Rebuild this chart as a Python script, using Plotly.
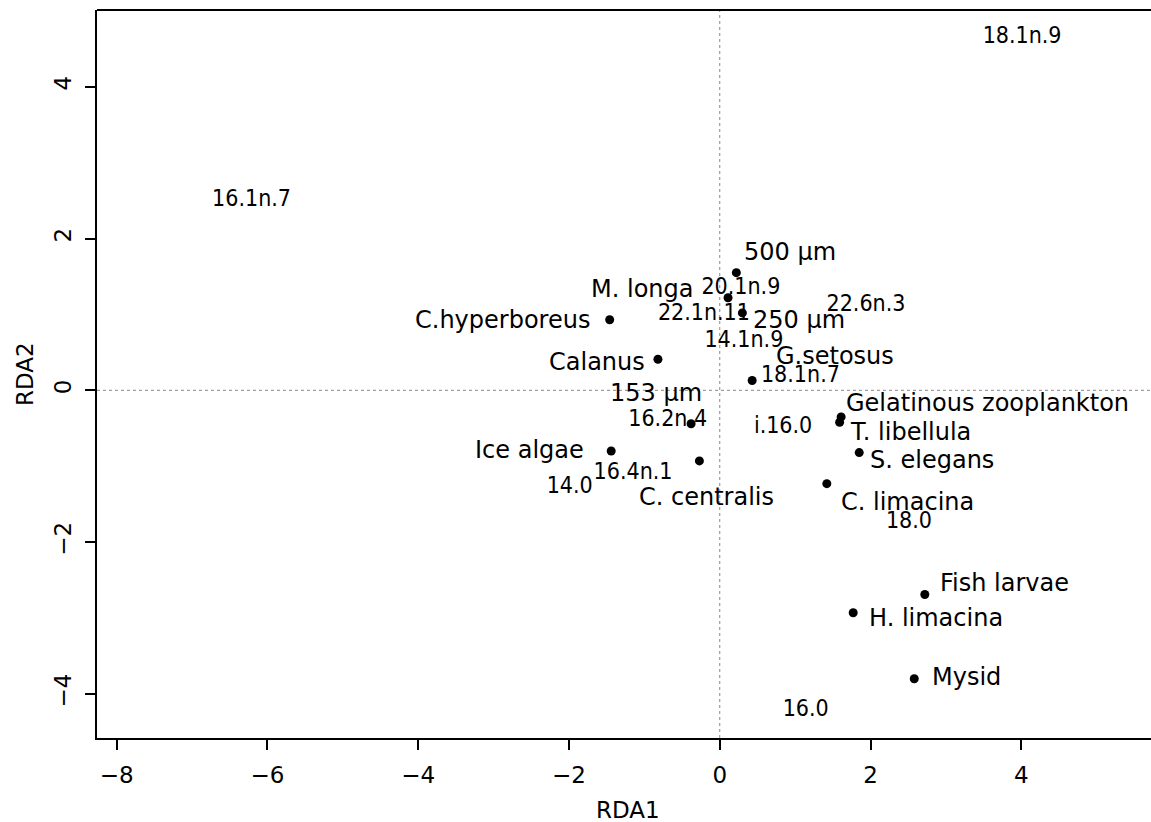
import plotly.graph_objects as go

# --- data -------------------------------------------------------------
species = ["500 µm", "M. longa", "250 µm", "C.hyperboreus", "Calanus", "G.setosus",
           "153 µm", "Ice algae", "C. centralis", "Gelatinous zooplankton",
           "T. libellula", "S. elegans", "C. limacina", "Fish larvae",
           "H. limacina", "Mysid"]
species_rda1 = [0.22, 0.11, 0.30, -1.46, -0.82, 0.43, -0.38, -1.44, -0.27,
                1.61, 1.59, 1.85, 1.42, 2.72, 1.77, 2.58]
species_rda2 = [1.55, 1.22, 1.02, 0.93, 0.41, 0.13, -0.44, -0.80, -0.93,
                -0.35, -0.42, -0.82, -1.23, -2.69, -2.93, -3.80]

fatty_acids = ["18.1n.9", "16.1n.7", "22.6n.3", "20.1n.9", "22.1n.11", "14.1n.9",
               "18.1n.7", "16.2n.4", "i.16.0", "16.4n.1", "14.0", "18.0", "16.0"]
fa_rda1 = [4.01, -6.21, 1.94, 0.28, -0.21, 0.32, 1.07, -0.69, 0.84, -1.15, -1.99, 2.51, 1.14]
fa_rda2 = [4.65, 2.51, 1.12, 1.35, 1.00, 0.65, 0.18, -0.39, -0.48, -1.09, -1.28, -1.74, -4.21]

x_ticks = [-8, -6, -4, -2, 0, 2, 4]
y_ticks = [-4, -2, 0, 2, 4]

# --- label placement (styling only) -------------------------------------
label_anchor = ["left", "right", "left", "right", "right", "left", "center", "right",
                "center", "left", "left", "left", "left", "left", "left", "left"]
label_dx = [6, -33, 9, -18, -11, 22, -35, -25, 7, 3, 8, 9, 12, 13, 14, 16]
label_dy = [21, 9, -7, 0, -3, 24, 31, 1, -36, 14, -10, -7, -18, 12, -5, 2]

FONT = "DejaVu Sans"
fig = go.Figure()

# reference lines through origin
fig.add_shape(type="line", xref="x", yref="paper", x0=0, x1=0, y0=0, y1=1,
              line=dict(color="#888888", width=1, dash="dot"), layer="below")
fig.add_shape(type="line", xref="paper", yref="y", x0=0, x1=1, y0=0, y1=0,
              line=dict(color="#888888", width=1, dash="dot"), layer="below")
# top border
fig.add_shape(type="line", xref="paper", yref="paper", x0=0, x1=1, y0=1, y1=1,
              line=dict(color="black", width=2))

fig.add_trace(go.Scatter(x=fa_rda1, y=fa_rda2, mode="text", text=fatty_acids,
                         textposition="middle center",
                         textfont=dict(family="DejaVu Sans Condensed, " + FONT, size=23, color="black"),
                         showlegend=False, hoverinfo="skip"))

fig.add_trace(go.Scatter(x=species_rda1, y=species_rda2, mode="markers",
                         marker=dict(color="black", size=9),
                         showlegend=False, hoverinfo="skip"))

for name, xv, yv, anc, dx, dy in zip(species, species_rda1, species_rda2,
                                     label_anchor, label_dx, label_dy):
    fig.add_annotation(x=xv, y=yv, text=name, showarrow=False,
                       xanchor=anc, yanchor="middle", xshift=dx, yshift=dy,
                       font=dict(family=FONT, size=24, color="black"))

# axis titles
fig.add_annotation(xref="paper", yref="paper", x=0.5, y=0, xshift=4, yshift=-72,
                   text="RDA1", showarrow=False, xanchor="center", yanchor="middle",
                   font=dict(family=FONT, size=23, color="black"))
fig.add_annotation(xref="paper", yref="paper", x=0, y=0.5, xshift=-72, yshift=0,
                   text="RDA2", showarrow=False, textangle=-90, xanchor="center",
                   yanchor="middle", font=dict(family=FONT, size=23, color="black"))

fig.update_layout(
    width=1151, height=822,
    margin=dict(l=97, r=0, t=10, b=84),
    paper_bgcolor="white", plot_bgcolor="white",
    font=dict(family=FONT, size=23, color="black"),
    xaxis=dict(range=[-8.26, 5.72], tickmode="array", tickvals=x_ticks,
               ticktext=[f"{v:g}".replace("-", "\u2212") for v in x_ticks],
               showgrid=False, zeroline=False, showline=True, linecolor="black",
               linewidth=2, ticks="outside", ticklen=10, tickwidth=1.5,
               tickcolor="black", ticklabelstandoff=5),
    yaxis=dict(range=[-4.58, 5.01], tickmode="array", tickvals=y_ticks,
               ticktext=[f"{v:g}".replace("-", "\u2212") for v in y_ticks],
               showgrid=False, zeroline=False, showline=True, linecolor="black",
               linewidth=2, ticks="outside", ticklen=10, tickwidth=1.5,
               tickcolor="black", tickangle=-90, ticklabelstandoff=5),
)

fig.write_html("out.html")
